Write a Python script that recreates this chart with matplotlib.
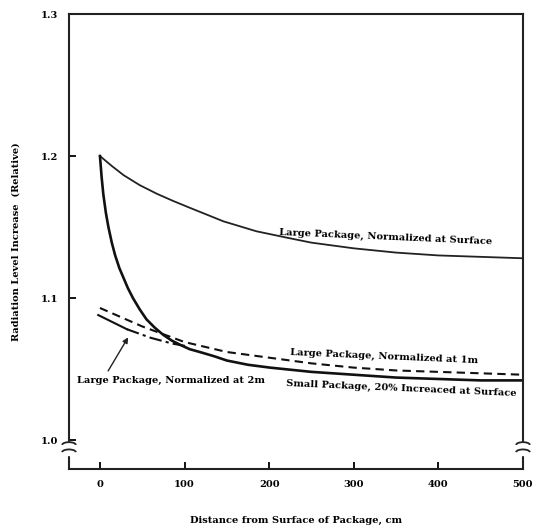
import matplotlib
matplotlib.use("Agg")
from matplotlib import pyplot as plt
from matplotlib.patches import Arc

# values
tick_x = [0, 100, 200, 300, 400, 500]
tick_y = [1.0, 1.1, 1.2, 1.3]
tick_y_labels = ["1.0", "1.1", "1.2", "1.3"]

surface_x = [0, 14, 28, 47, 67, 86, 106, 146, 185, 221, 250, 300, 350, 400, 450, 500]
surface_y = [1.200, 1.193, 1.1865, 1.1795, 1.1735, 1.1685, 1.1636, 1.154, 1.147, 1.1425,
             1.139, 1.135, 1.132, 1.130, 1.129, 1.128]

small_x = [0, 2, 4, 7, 10, 14, 18, 23, 28, 33, 39, 47, 55, 65, 75, 85, 95, 106, 118, 135, 150, 175,
           201, 250, 300, 350, 400, 450, 500]
small_y = [1.200, 1.185, 1.173, 1.160, 1.150, 1.139, 1.130, 1.121, 1.114, 1.107, 1.100, 1.092,
           1.085, 1.079, 1.074, 1.070, 1.067, 1.064, 1.062, 1.059, 1.056, 1.053,
           1.051, 1.048, 1.046, 1.044, 1.043, 1.042, 1.042]

m1_x = [0, 50, 100, 150, 200, 250, 300, 350, 400, 450, 500]
m1_y = [1.093, 1.080, 1.069, 1.062, 1.058, 1.054, 1.051, 1.049, 1.048, 1.047, 1.046]

m2_solid_x = [-2, 15, 32]
m2_solid_y = [1.088, 1.083, 1.078]
m2_dash_x = [32, 60, 85, 103]
m2_dash_y = [1.078, 1.072, 1.068, 1.066]

font = {"family": "DejaVu Serif", "weight": "bold", "size": 7.1}

fig = plt.figure(figsize=(5.36, 5.29), dpi=100)
ax = fig.add_axes([0.1287, 0.1134, 0.8470, 0.8601])

ax.plot(surface_x, surface_y, color="#222222", lw=1.3)
ax.plot(small_x, small_y, color="#111111", lw=1.9)
ax.plot(m1_x, m1_y, color="#111111", lw=1.5, ls=(0, (4, 2.5)))
ax.plot(m2_solid_x, m2_solid_y, color="#111111", lw=1.5)
ax.plot(m2_dash_x, m2_dash_y, color="#111111", lw=1.5, ls=(0, (6, 2, 1.5, 2)))

ax.set_xlim(-36.6, 500)
ax.set_ylim(0.9796, 1.3)
ax.set_xticks(tick_x)
ax.set_xticklabels([str(v) for v in tick_x], fontdict=font)
ax.set_yticks(tick_y)
ax.set_yticklabels(tick_y_labels, fontdict=font)
ax.tick_params(direction="in", length=5, width=1.3, pad=8)
for s in ax.spines.values():
    s.set_linewidth(1.5)
    s.set_color("#222222")

# labels on curves
ax.text(338, 1.143, "Large Package, Normalized at Surface", ha="center", va="center",
        rotation=-2.5, fontdict=font)
ax.text(336, 1.059, "Large Package, Normalized at 1m", ha="center", va="center",
        rotation=-2.5, fontdict=font)
ax.text(356, 1.036, "Small Package, 20% Increaced at Surface", ha="center", va="center",
        rotation=-2.5, fontdict=font)
ax.text(-27, 1.042, "Large Package, Normalized at 2m", ha="left", va="center", fontdict=font)
ax.annotate("", xy=(35, 1.074), xytext=(8, 1.047),
            arrowprops=dict(arrowstyle="-|>", color="#222222", lw=1.0, mutation_scale=8))

# axis break marks
for bx in [0.0, 1.0]:
    ax.add_patch(plt.Rectangle((bx - 0.012, 0.03), 0.024, 0.03, transform=ax.transAxes,
                               color="white", clip_on=False, zorder=5))
    for by in [0.037, 0.053]:
        ax.add_patch(Arc((bx, by), 0.03, 0.012, theta1=0, theta2=180, transform=ax.transAxes,
                         color="#222222", lw=1.3, clip_on=False, zorder=6))

ax.set_xlabel("Distance from Surface of Package, cm", fontdict=font, labelpad=19)
ax.set_ylabel("Radiation Level Increase  (Relative)", fontdict=font, labelpad=14)

fig.savefig("out.png", dpi=100)
